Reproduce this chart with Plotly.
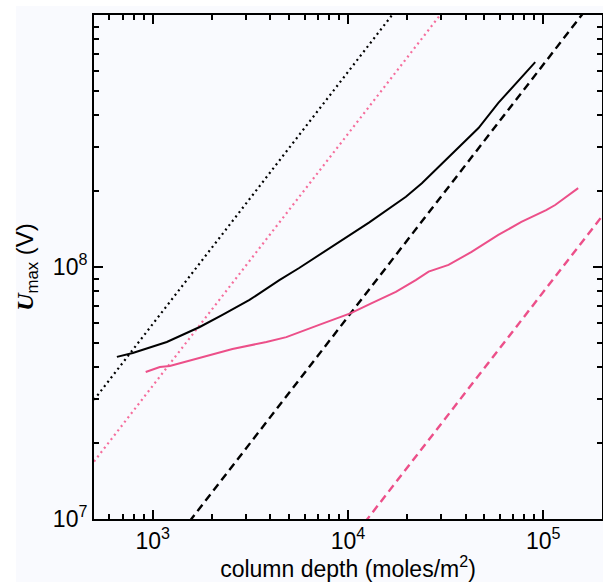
import plotly.graph_objects as go

# Column depth (moles/m^2) and maximum potential U_max (V)
black_x = [655, 790, 1180, 1740, 2275, 3130, 4450, 5620, 12800, 19800, 23900, 40000, 46600, 58900, 91000]
black_y = [4.40e7, 4.56e7, 5.04e7, 5.78e7, 6.46e7, 7.40e7, 8.87e7, 9.91e7, 1.50e8, 1.90e8, 2.15e8,
           3.19e8, 3.56e8, 4.48e8, 6.50e8]

pink_x = [920, 1087, 1222, 1738, 2559, 3819, 4831, 7112, 10350, 13240, 17580, 22230, 25880, 32730,
          42950, 58880, 77270, 103500, 115100, 151000]
pink_y = [3.83e7, 4.01e7, 4.05e7, 4.36e7, 4.73e7, 5.04e7, 5.27e7, 5.89e7, 6.56e7, 7.19e7, 7.96e7,
          8.87e7, 9.59e7, 1.019e8, 1.148e8, 1.340e8, 1.510e8, 1.683e8, 1.762e8, 2.056e8]

# Linear (U proportional to N) reference lines, given at the two ends of the x range
ref_x = [500, 2e5]
black_dot_y = [2.97e7, 1.19e10]
pink_dot_y = [1.69e7, 6.74e9]
black_dash_y = [3.17e6, 1.27e9]
pink_dash_y = [3.98e5, 1.59e8]

x_tickvals = [1e3, 1e4, 1e5]
x_ticktext = ["10<sup>3</sup>", "10<sup>4</sup>", "10<sup>5</sup>"]
y_tickvals = [1e7, 1e8, 1e9]
y_ticktext = ["10<sup>7</sup>", "10<sup>8</sup>", "10<sup>9</sup>"]

BLACK = "black"
PINK = "#ec4f89"
PINK_LIGHT = "#f56d9c"
BG = "#f9fafe"
FONT = "Liberation Sans, Arial, sans-serif"
X_RANGE = [2.69897, 5.30103]
Y_RANGE = [7, 9]

x_minor = [float(m * 10 ** e) for e in (2, 3, 4) for m in range(2, 10) if 500 < m * 10 ** e < 2e5]
y_minor = [float(m * 10 ** e) for e in (7, 8) for m in range(2, 10)]

fig = go.Figure()
fig.add_trace(go.Scatter(x=ref_x, y=black_dot_y, mode="lines",
                         line=dict(color=BLACK, width=2.2, dash="2px,3.5px")))
fig.add_trace(go.Scatter(x=ref_x, y=pink_dot_y, mode="lines",
                         line=dict(color=PINK_LIGHT, width=2.2, dash="2px,3.5px")))
fig.add_trace(go.Scatter(x=ref_x, y=black_dash_y, mode="lines",
                         line=dict(color=BLACK, width=2.4, dash="8px,5px")))
fig.add_trace(go.Scatter(x=ref_x, y=pink_dash_y, mode="lines",
                         line=dict(color=PINK, width=2.4, dash="8px,5px")))
fig.add_trace(go.Scatter(x=black_x, y=black_y, mode="lines",
                         line=dict(color=BLACK, width=2)))
fig.add_trace(go.Scatter(x=pink_x, y=pink_y, mode="lines",
                         line=dict(color=PINK, width=2)))

frame = dict(
    type="log",
    showgrid=False,
    zeroline=False,
    showline=True,
    linecolor=BLACK,
    linewidth=2,
    mirror="ticks",
    ticks="inside",
    tickwidth=2,
    tickcolor=BLACK,
    tickfont=dict(family=FONT, size=23, color=BLACK),
)

fig.update_xaxes(
    **frame,
    range=X_RANGE,
    ticklen=9,
    tickmode="array",
    tickvals=x_tickvals,
    ticktext=x_ticktext,
    minor=dict(tickmode="array", tickvals=x_minor, ticks="inside", ticklen=5,
               tickwidth=2, tickcolor=BLACK),
    title=dict(text="column depth (moles/m<sup>2</sup>)",
               font=dict(family=FONT, size=23, color=BLACK), standoff=2),
)
fig.update_yaxes(
    **frame,
    range=Y_RANGE,
    ticklen=9,
    tickmode="array",
    tickvals=y_tickvals,
    ticktext=y_ticktext,
    minor=dict(tickmode="array", tickvals=y_minor, ticks="inside", ticklen=5,
               tickwidth=2, tickcolor=BLACK),
    title=dict(text="<span style=\"font-family:'Liberation Serif', serif\"><b><i>U</i></b></span>"
                    "<sub>max</sub> (V)",
               font=dict(family=FONT, size=24, color=BLACK), standoff=12),
)

# thin white page border along the left and top edges
fig.add_shape(type="rect", xref="paper", yref="paper", layer="above",
              x0=-0.3, x1=-0.1535, y0=-0.3, y1=1.1,
              fillcolor="white", line=dict(width=0))
fig.add_shape(type="rect", xref="paper", yref="paper", layer="above",
              x0=-0.3, x1=1.1, y0=1.0179, y1=1.1,
              fillcolor="white", line=dict(width=0))

fig.update_layout(
    width=603,
    height=582,
    margin=dict(l=94, r=1, t=15, b=63, autoexpand=False),
    paper_bgcolor=BG,
    plot_bgcolor=BG,
    showlegend=False,
)

fig.write_html("out.html")
